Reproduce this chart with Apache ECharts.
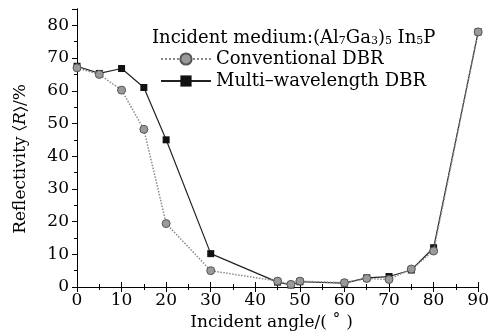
<!DOCTYPE html>
<html>
<head>
<meta charset="utf-8">
<script src="https://cdn.jsdelivr.net/npm/echarts@6/dist/echarts.min.js"></script>
<style>html,body{margin:0;padding:0;background:#fff}#c{width:492px;height:336px}</style>
</head>
<body>
<div id="c"></div>
<script>
var xTicks = [0, 10, 20, 30, 40, 50, 60, 70, 80, 90];
var yTicks = [0, 10, 20, 30, 40, 50, 60, 70, 80];
var convAngles = [0, 5, 10, 15, 20, 30, 45, 48, 50, 60, 65, 70, 75, 80, 90];
var convValues = [67, 65, 60.2, 48.2, 19.4, 5, 1.8, 0.8, 1.8, 1.3, 2.6, 2.3, 5.5, 11, 78];
var multiAngles = [0, 5, 10, 15, 20, 30, 45, 48, 50, 60, 65, 70, 75, 80, 90];
var multiValues = [67.5, 65.3, 66.8, 61, 45, 10.2, 1.5, 0.6, 1.6, 1.2, 2.8, 3.2, 5.2, 12, 78];

var convData = convAngles.map(function (a, i) { return [a, convValues[i]]; });
var multiData = multiAngles.map(function (a, i) { return [a, multiValues[i]]; });

var FONT = 'DejaVu Serif';
var chart = echarts.init(document.getElementById('c'));
var axisCommon = {
  type: 'value',
  axisLine: { show: true, lineStyle: { color: '#000', width: 1 } },
  axisTick: { show: true, inside: true, length: 5, lineStyle: { color: '#000' } },
  minorTick: { show: true, splitNumber: 2, length: 3, lineStyle: { color: '#000' } },
  splitLine: { show: false }
};
chart.setOption({
  animation: false,
  backgroundColor: '#fff',
  textStyle: { fontFamily: FONT, color: '#000' },
  grid: { left: 77, right: 9, top: 9, bottom: 49, containLabel: false },
  title: {
    left: 147, top: 24,
    text: 'Incident medium:(Al{s|7}Ga{s|3}){s|5} In{s|5}P',
    textStyle: {
      fontFamily: FONT, fontSize: 18, fontWeight: 'normal', color: '#000',
      rich: {
        s: { fontFamily: FONT, fontSize: 11, color: '#000', verticalAlign: 'bottom', lineHeight: 8 }
      }
    }
  },
  legend: {
    left: 160, top: 50, orient: 'vertical', itemGap: 4, padding: 0,
    itemWidth: 50, itemHeight: 14,
    textStyle: { fontFamily: FONT, fontSize: 18, color: '#000' },
    data: ['Conventional DBR', 'Multi\u2013wavelength DBR']
  },
  xAxis: [
    Object.assign({}, axisCommon, {
      min: 0, max: 90, interval: 10,
      name: 'Incident angle/( \u02da )', nameLocation: 'middle', nameGap: 25,
      nameTextStyle: { fontFamily: FONT, fontSize: 17, color: '#000', padding: [0, 12, 0, 0] },
      axisLabel: { fontFamily: FONT, fontSize: 17, color: '#000', margin: 5 }
    }),
    Object.assign({}, axisCommon, {
      min: 0, max: 90, interval: 10, position: 'top',
      axisLabel: { show: false }
    })
  ],
  yAxis: [
    Object.assign({}, axisCommon, {
      min: 0, max: 85, interval: 10,
      name: 'Reflectivity \u2329{i|R}\u232a/%', nameLocation: 'middle', nameGap: 48,
      nameTextStyle: { fontFamily: FONT, fontSize: 17, color: '#000', padding: [0, 22, 0, 0],
        rich: { i: { fontFamily: FONT, fontSize: 17, fontStyle: 'italic', color: '#000' } } },
      axisTick: { show: true, inside: false, length: 4, lineStyle: { color: '#000' } },
      minorTick: { show: true, splitNumber: 2, length: 2, lineStyle: { color: '#000' } },
      axisLabel: { fontFamily: FONT, fontSize: 17, color: '#000', margin: 8, showMaxLabel: false }
    }),
    Object.assign({}, axisCommon, {
      min: 0, max: 85, interval: 10, position: 'right',
      axisLabel: { show: false }
    })
  ],
  series: [
    {
      name: 'Conventional DBR', type: 'line', data: convData,
      symbol: 'circle', symbolSize: 8,
      itemStyle: { color: '#9a9a9a', borderColor: '#555', borderWidth: 1 },
      lineStyle: { color: '#8a8a8a', width: 1.5, type: 'dotted' },
      z: 3
    },
    {
      name: 'Multi\u2013wavelength DBR', type: 'line', data: multiData,
      symbol: 'rect', symbolSize: 7,
      itemStyle: { color: '#111' },
      lineStyle: { color: '#222', width: 1.2 },
      z: 2
    }
  ]
});
</script>
</body>
</html>
